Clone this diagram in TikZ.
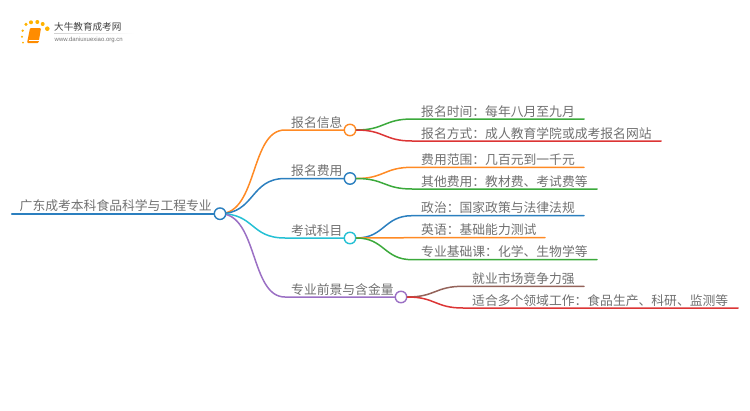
\documentclass[tikz,border=0pt]{standalone}
\usepackage{fontspec}
\setmainfont{Noto Sans CJK SC}
\setsansfont{Liberation Sans}
\usetikzlibrary{calc}
\definecolor{cOrange}{HTML}{FF8A24}
\definecolor{cBlue}{HTML}{2B7FBF}
\definecolor{cCyan}{HTML}{25C0D4}
\definecolor{cPurple}{HTML}{9B70C4}
\definecolor{cGreen}{HTML}{3BA93B}
\definecolor{cRed}{HTML}{DC3535}
\definecolor{cBrown}{HTML}{94635A}
\definecolor{cText}{HTML}{707070}
\tikzset{
  x=1pt,y=-1pt,
  lab/.style={inner sep=0pt,anchor=base west,text=cText,font=\fontsize{12.8pt}{13pt}\selectfont},
  hub/.style={circle,draw=#1,fill=white,line width=1.4pt,minimum size=11.5pt,inner sep=0pt},
  wire/.style={draw=#1,line width=1.5pt,line cap=round},
  dot/.style={circle,fill=#1,inner sep=0pt,draw=none},
}
\newcommand{\leafy}[8]{% name, hub, y, endx, startx, colour, textx, text
  \coordinate (#1a) at (#5,#3);
  \coordinate (#1b) at (#4,#3);
  \draw[wire=#6] (#2.east) .. controls ($(#2.east)+(28,0)$) and ($(#1a)+(-28,0)$) .. (#1a) -- (#1b);
  \node[lab] (#1) at (#7,#3-3) {#8};
}
\begin{document}
\begin{tikzpicture}
\useasboundingbox (0,0) rectangle (750,410);
% logo
\foreach \n/\px/\py/\r in {d1/26/24.3/1.7,d2/31/22.3/2,d3/37.3/22/2,d4/42.7/24/2,d5/47.3/28.7/2.3,d6/22.7/30.7/1.3,d7/22/36.7/1.1,d8/23/42.7/1}{
  \node[dot={orange!60!yellow},minimum size=2*\r pt] (\n) at (\px,\py) {};
}
\fill[orange!90!yellow,rounded corners=1pt] (30,28) -- (41,28) -- (38.5,43) -- (27,43) -- cycle;
\draw[white,line width=.5pt] (29,40.5) -- (38.5,40.5);
\node[inner sep=0pt,anchor=base west,text=black!75,font=\fontsize{9.6pt}{10pt}\selectfont] (brand) at (54,30.4) {大牛教育成考网};
\node[inner sep=0pt,anchor=base west,text=black!55,font=\sffamily\fontsize{6pt}{6pt}\selectfont] (site) at (54.5,41) {www.daniuxuexiao.org.cn};
\shade[left color=black!18,right color=white] (54,33.3) rectangle (134,33.8);
% root
\coordinate (rootl) at (12,213.7);
\coordinate (b1) at (285,130);
\coordinate (b2) at (285,178.5);
\coordinate (b3) at (285,238);
\coordinate (b4) at (285,297);
\coordinate (hr) at (220,213.7);
\draw[wire=cBlue,line width=2.15pt] (rootl) -- (hr);
\draw[wire=cOrange] (hr) .. controls (258,213.5) and (250,130) .. (b1) -- (350,130);
\draw[wire=cBlue] (hr) .. controls (255,213.5) and (250,178.5) .. (b2) -- (350,178.5);
\draw[wire=cCyan] (hr) .. controls (255,213.5) and (250,238) .. (b3) -- (350,238);
\draw[wire=cPurple] (hr) .. controls (258,213.5) and (250,297) .. (b4) -- (401,297);
\node[hub=cBlue] (root) at (hr) {};
\node[hub=cOrange] (h1) at (350,130) {};
\node[hub=cBlue] (h2) at (350,178.5) {};
\node[hub=cCyan] (h3) at (350,238) {};
\node[hub=cPurple] (h4) at (401,297) {};
\node[lab] (rootT) at (19.5,210) {广东成考本科食品科学与工程专业};
\node[lab] (t1) at (291,127) {报名信息};
\node[lab] (t2) at (291,175.5) {报名费用};
\node[lab] (t3) at (291,235) {考试科目};
\node[lab] (t4) at (291,294) {专业前景与含金量};
% leaves
\leafy{l1}{h1}{119}{584}{412}{cGreen}{421}{报名时间：每年八月至九月}
\leafy{l2}{h1}{141}{661}{412}{cRed}{421}{报名方式：成人教育学院或成考报名网站}
\leafy{l3}{h2}{167.3}{584}{412}{cOrange}{421}{费用范围：几百元到一千元}
\leafy{l4}{h2}{189}{597}{412}{cGreen}{421}{其他费用：教材费、考试费等}
\leafy{l5}{h3}{215.7}{584}{412}{cBlue}{421}{政治：国家政策与法律法规}
\leafy{l6}{h3}{237.7}{545}{412}{cOrange}{421}{英语：基础能力测试}
\leafy{l7}{h3}{259.7}{597}{412}{cGreen}{421}{专业基础课：化学、生物学等}
\leafy{l8}{h4}{286.3}{584}{463}{cBrown}{472}{就业市场竞争力强}
\leafy{l9}{h4}{308}{738}{463}{cRed}{472}{适合多个领域工作：食品生产、科研、监测等}
\end{tikzpicture}
\end{document}
